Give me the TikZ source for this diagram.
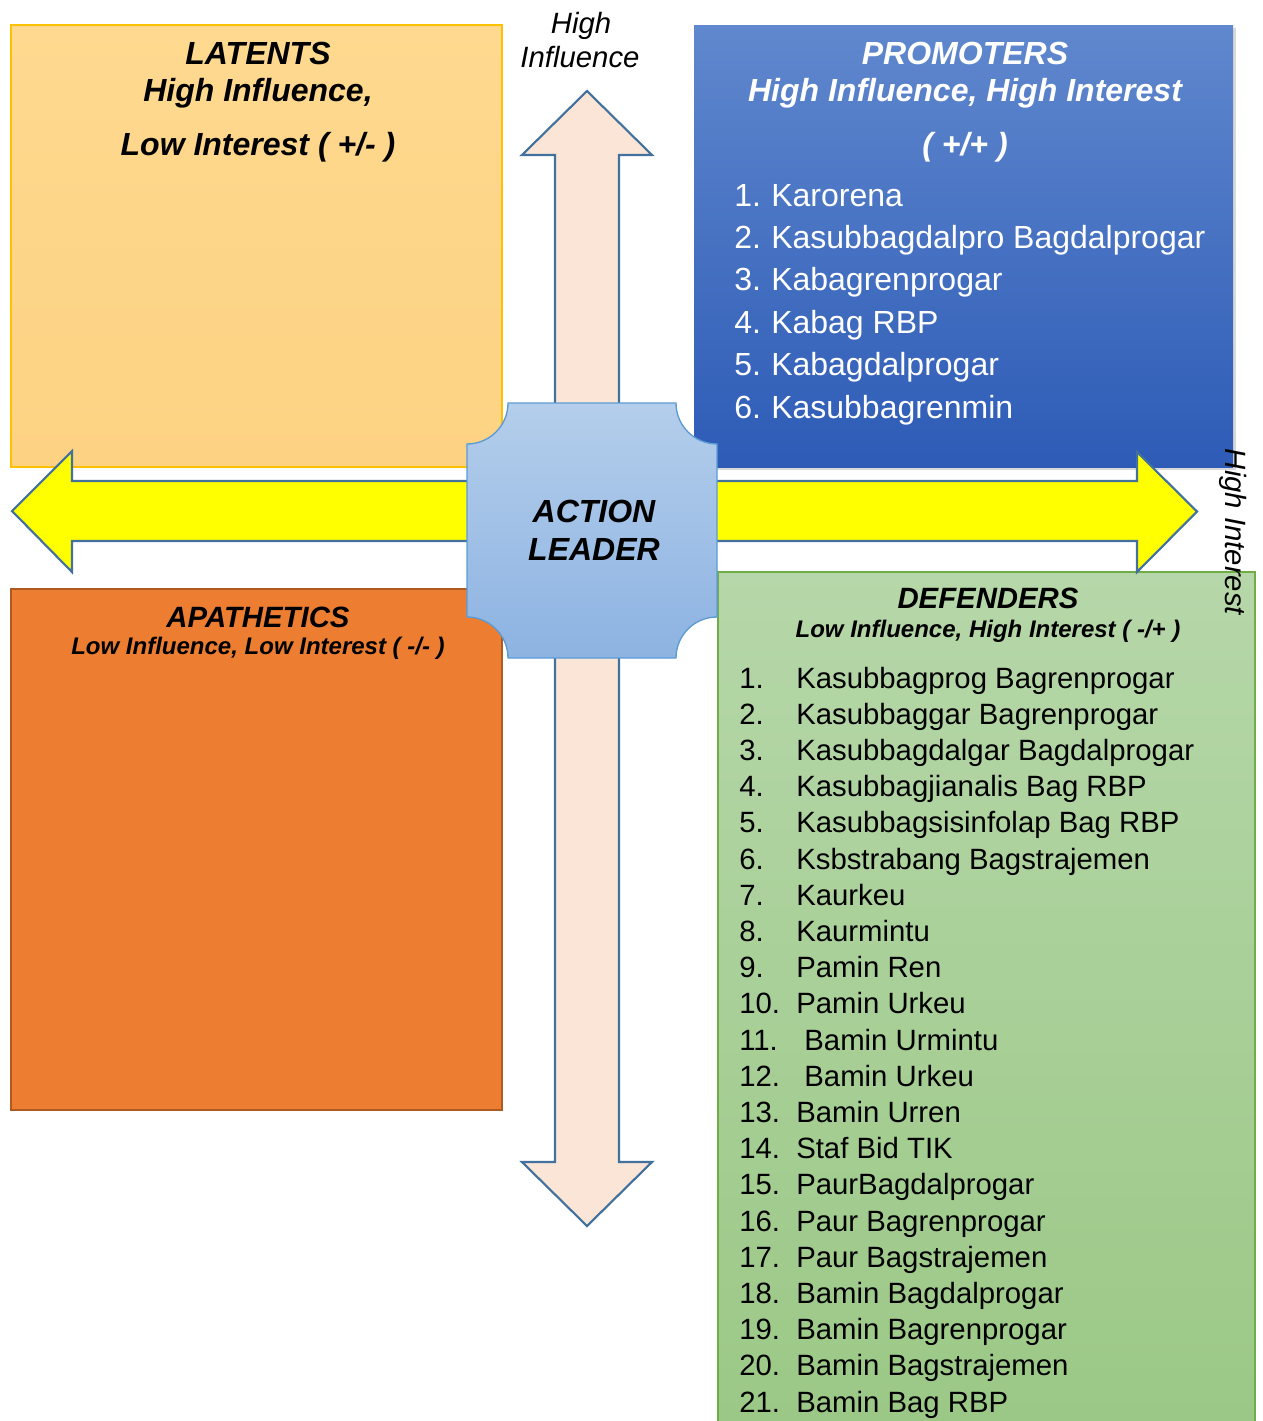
\documentclass[tikz,border=0pt]{standalone}
\usepackage{fontspec}
\setmainfont{Liberation Sans}
\usetikzlibrary{shadows}

\definecolor{lattop}{HTML}{FED98F}
\definecolor{latbot}{HTML}{FDD283}
\definecolor{latline}{HTML}{FFC000}
\definecolor{protop}{HTML}{6088CE}
\definecolor{probot}{HTML}{2D5BB6}
\definecolor{apafill}{HTML}{ED7D31}
\definecolor{apaline}{HTML}{AE5A21}
\definecolor{deftop}{HTML}{B6D7A9}
\definecolor{defbot}{HTML}{9BC886}
\definecolor{defline}{HTML}{70AD47}
\definecolor{arrline}{HTML}{41719C}
\definecolor{inffill}{HTML}{FBE5D6}
\definecolor{intfill}{HTML}{FFFF00}
\definecolor{acttop}{HTML}{B4CEEB}
\definecolor{actbot}{HTML}{8DB3E2}
\definecolor{actline}{HTML}{5B9BD5}

\tikzset{
  bigtitle/.style={font=\fontsize{24}{28}\selectfont\bfseries\itshape, inner sep=0pt, anchor=base},
  midtitle/.style={font=\fontsize{22}{26}\selectfont\bfseries\itshape, inner sep=0pt, anchor=base},
  subtitle/.style={font=\fontsize{18}{22}\selectfont\bfseries\itshape, inner sep=0pt, anchor=base},
  axislabel/.style={font=\fontsize{22}{26}\selectfont\itshape, inner sep=0pt, anchor=base},
  proitem/.style={font=\fontsize{24}{28}\selectfont, text=white, inner sep=0pt, anchor=base west},
  defitem/.style={font=\fontsize{22}{26}\selectfont, inner sep=0pt, anchor=base west},
  bigarrow/.style={draw=arrline, line width=1.6pt, line join=miter}
}

\begin{document}
\begin{tikzpicture}[x=0.75pt,y=-0.75pt]

\useasboundingbox (0,0) rectangle (1263,1421);

\path[top color=lattop, bottom color=latbot, draw=latline, line width=1pt] (11,25) rectangle (502,467);
\path[top color=protop, bottom color=probot, drop shadow={shadow xshift=2.5pt, shadow yshift=-2.5pt, opacity=0.3}] (694,25) rectangle (1233,467);
\path[fill=apafill, draw=apaline, line width=1.5pt] (11,589) rectangle (502,1110);
\path[top color=deftop, bottom color=defbot, draw=defline, line width=1pt] (718,572) rectangle (1255,1430);

\path[bigarrow, fill=inffill] (587,91) -- (652,155) -- (619,155) -- (619,1162) -- (652,1162) -- (587,1226)
  -- (522,1162) -- (555,1162) -- (555,155) -- (522,155) -- cycle;
\path[bigarrow, fill=intfill] (12,511) -- (72,451) -- (72,481) -- (1137,481) -- (1137,452) -- (1197,511.5)
  -- (1137,572) -- (1137,541) -- (72,541) -- (72,572) -- cycle;

\path[top color=acttop, bottom color=actbot, draw=actline, line width=1pt]
  (508,403) -- (676,403) arc[start angle=180, end angle=90, radius=41]
  -- (717,617) arc[start angle=-90, end angle=-180, radius=41]
  -- (508,658) arc[start angle=0, end angle=-90, radius=41]
  -- (467,444) arc[start angle=90, end angle=0, radius=41] -- cycle;

\node[bigtitle] (lat1) at (258,64) {LATENTS};
\node[bigtitle] (lat2) at (258,101) {High Influence,};
\node[bigtitle] (lat3) at (258,155) {Low Interest ( +/- )};

\node[bigtitle, text=white] (pro1) at (965,64) {PROMOTERS};
\node[bigtitle, text=white] (pro2) at (965,101) {High Influence, High Interest};
\node[bigtitle, text=white] (pro3) at (965,155) {( +/+ )};
\foreach \name [count=\i] in {Karorena, Kasubbagdalpro Bagdalprogar, Kabagrenprogar, Kabag RBP, Kabagdalprogar, Kasubbagrenmin} {
  \node[proitem] (pn\i) at (734,{206+42.4*(\i-1)}) {\i.};
  \node[proitem] (pt\i) at (771,{206+42.4*(\i-1)}) {\name};
}

\node[midtitle] (apa1) at (258,627) {APATHETICS};
\node[subtitle] (apa2) at (258,654) {Low Influence, Low Interest ( -/- )};

\node[midtitle] (def1) at (988,608) {DEFENDERS};
\node[subtitle] (def2) at (988,637) {Low Influence, High Interest ( -/+ )};
\foreach \name [count=\i] in {Kasubbagprog Bagrenprogar, Kasubbaggar Bagrenprogar, Kasubbagdalgar Bagdalprogar,
  Kasubbagjianalis Bag RBP, Kasubbagsisinfolap Bag RBP, Ksbstrabang Bagstrajemen, Kaurkeu, Kaurmintu,
  Pamin Ren, Pamin Urkeu, \ Bamin Urmintu, \ Bamin Urkeu, Bamin Urren, Staf Bid TIK, PaurBagdalprogar,
  Paur Bagrenprogar, Paur Bagstrajemen, Bamin Bagdalprogar, Bamin Bagrenprogar, Bamin Bagstrajemen, Bamin Bag RBP} {
  \node[defitem] (dn\i) at (739,{688+36.2*(\i-1)}) {\i.};
  \node[defitem] (dt\i) at (796,{688+36.2*(\i-1)}) {\name};
}

\node[bigtitle] (act1) at (594,522) {ACTION};
\node[bigtitle] (act2) at (594,560) {LEADER};

\node[axislabel] (inf1) at (581,33) {High};
\node[axislabel] (inf2) at (580,67) {Influence};
\node[axislabel, rotate=-90] (int) at (1225,532) {High Interest};

\end{tikzpicture}
\end{document}
